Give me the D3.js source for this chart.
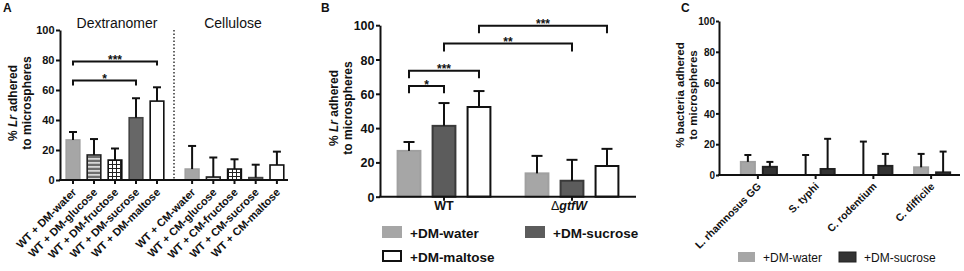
<!DOCTYPE html>
<html>
<head>
<meta charset="utf-8">
<script src="https://cdn.jsdelivr.net/npm/d3@7"></script>
<style>
  body { margin: 0; background: #fff; }
  svg text { font-family: Arial, "Liberation Sans", sans-serif; fill: #111; }
</style>
</head>
<body>
<svg id="fig" width="964" height="271"></svg>
<script>
// ---------- data ----------
// panel A
let dmLabels = ['WT + DM-water', 'WT + DM-glucose', 'WT + DM-fructose', 'WT + DM-sucrose', 'WT + DM-maltose'];
let cmLabels = ['WT + CM-water', 'WT + CM-glucose', 'WT + CM-fructose', 'WT + CM-sucrose', 'WT + CM-maltose'];
let sugars = ['water', 'glucose', 'fructose', 'sucrose', 'maltose'];
let dmMeans = [26.7, 16.7, 13.3, 41.5, 52.6];
let dmSd = [5.3, 10.6, 7.7, 13.0, 9.2];
let cmMeans = [7.3, 2.0, 7.3, 1.6, 10.0];
let cmSd = [15.4, 13.0, 6.5, 8.6, 8.9];
let aBrackets = [
  {from: 0, to: 4, top: 79, leg: 76.3, label: '***'},
  {from: 0, to: 3, top: 66.3, leg: 63, label: '*'}
];

// panel B
let strains = ['WT', 'gtfW'];
let bSeries = ['+DM-water', '+DM-sucrose', '+DM-maltose'];
let wtMeans = [26.7, 41.3, 52.3];
let wtSd = [5.2, 13.3, 9.3];
let gtfMeans = [13.6, 9.3, 17.9];
let gtfSd = [10.2, 12.2, 10.0];
let bBrackets = [
  {from: [0, 0], to: [0, 1], top: 64.5, leg: 60.3, label: '*'},
  {from: [0, 0], to: [0, 2], top: 73.5, leg: 69, label: '***'},
  {from: [0, 1], to: [1, 1], top: 89.4, leg: 84.6, label: '**'},
  {from: [0, 2], to: [1, 2], top: 99.7, leg: 95.3, label: '***'}
];

// panel C
let species = ['L. rhamnosus GG', 'S. typhi', 'C. rodentium', 'C. difficile'];
let cSeries = ['+DM-water', '+DM-sucrose'];
let waterMeans = [8.5, 0, 0, 5.0];
let waterSd = [4.5, 13.0, 21.7, 8.7];
let sucroseMeans = [5.3, 3.9, 5.9, 1.7];
let sucroseSd = [3.2, 19.6, 7.8, 13.5];

let ticks = [0, 20, 40, 60, 80, 100];

// ---------- setup ----------
let svg = d3.select('#fig');
let defs = svg.append('defs');

// horizontal stripes (glucose)
let ps = defs.append('pattern').attr('id', 'hstripe')
  .attr('patternUnits', 'userSpaceOnUse').attr('width', 6).attr('height', 4);
ps.append('rect').attr('width', 6).attr('height', 4).attr('fill', '#6e6e6e');
ps.append('rect').attr('y', 2.2).attr('width', 6).attr('height', 1.4).attr('fill', '#f2f2f2');

// grid (fructose)
let pg = defs.append('pattern').attr('id', 'grid')
  .attr('patternUnits', 'userSpaceOnUse').attr('width', 4).attr('height', 4);
pg.append('rect').attr('width', 4).attr('height', 4).attr('fill', '#fff');
pg.append('path').attr('d', 'M0,0.5H4M0.5,0V4').attr('stroke', '#222').attr('stroke-width', 1);

let sugarStyle = {
  water:    {fill: '#a6a6a6', stroke: '#a0a0a0'},
  glucose:  {fill: 'url(#hstripe)', stroke: '#222'},
  fructose: {fill: 'url(#grid)', stroke: '#111'},
  sucrose:  {fill: '#676767', stroke: '#444'},
  maltose:  {fill: '#fff', stroke: '#111'}
};

// draws a y axis with GraphPad look
function drawYAxis(x, y, fontSize) {
  let g = svg.append('g')
    .attr('transform', 'translate(' + x + ',0)')
    .call(d3.axisLeft(y).tickValues(ticks).tickSize(4).tickSizeOuter(0).tickPadding(1.5));
  g.select('.domain').attr('stroke', '#111').attr('stroke-width', 2);
  g.selectAll('.tick line').attr('stroke', '#111').attr('stroke-width', 2);
  g.selectAll('.tick text')
    .style('font-size', fontSize + 'px').style('font-weight', 'bold')
    .attr('dy', '0.36em').attr('fill', '#111');
  return g;
}

// x axis line with tick marks at given positions
function drawXAxis(x1, x2, y, tickXs) {
  svg.append('line').attr('x1', x1 - 1).attr('x2', x2).attr('y1', y).attr('y2', y)
    .attr('stroke', '#111').attr('stroke-width', 2);
  svg.append('g').selectAll('line').data(tickXs).enter().append('line')
    .attr('x1', d => d).attr('x2', d => d).attr('y1', y).attr('y2', y + 4)
    .attr('stroke', '#111').attr('stroke-width', 2);
}

// upper whisker only
function whisker(g, cx, yTop, yCap, capW) {
  g.append('line').attr('x1', cx).attr('x2', cx).attr('y1', yTop).attr('y2', yCap)
    .attr('stroke', '#111').attr('stroke-width', 2);
  g.append('line').attr('x1', cx - capW / 2).attr('x2', cx + capW / 2).attr('y1', yCap).attr('y2', yCap)
    .attr('stroke', '#111').attr('stroke-width', 2);
}

function bracket(x1, x2, yTop, yLeg, label, fs) {
  svg.append('path')
    .attr('d', 'M' + x1 + ',' + yLeg + 'V' + yTop + 'H' + x2 + 'V' + yLeg)
    .attr('fill', 'none').attr('stroke', '#111').attr('stroke-width', 2);
  svg.append('text').attr('x', (x1 + x2) / 2).attr('y', yTop + 2.5)
    .attr('text-anchor', 'middle').style('font-size', fs + 'px').style('font-weight', 'bold')
    .text(label);
}

function panelLetter(x, y, t) {
  svg.append('text').attr('x', x).attr('y', y).style('font-size', '12px')
    .style('font-weight', 'bold').text(t);
}

function yLabel(x1, x2, cy, line1, line2, fs) {
  let t1 = svg.append('text').attr('transform', 'translate(' + x1 + ',' + cy + ') rotate(-90)')
    .attr('text-anchor', 'middle').style('font-size', fs + 'px').style('font-weight', 'bold');
  line1.forEach(p => t1.append('tspan').style('font-style', p.it ? 'italic' : 'normal').text(p.t));
  svg.append('text').attr('transform', 'translate(' + x2 + ',' + cy + ') rotate(-90)')
    .attr('text-anchor', 'middle').style('font-size', fs + 'px').style('font-weight', 'bold')
    .text(line2);
}

// ---------- panel A ----------
let yA = d3.scaleLinear().domain([0, 100]).range([180, 30]);
let xDM = d3.scaleBand().domain(dmLabels).range([62.5, 167.5]).paddingInner(0.28).paddingOuter(0.14);
let xCM = d3.scaleBand().domain(cmLabels).range([181.5, 287.5]).paddingInner(0.28).paddingOuter(0.14);

panelLetter(3, 12, 'A');
svg.append('text').attr('x', 117).attr('y', 28).attr('text-anchor', 'middle')
  .style('font-size', '14px').text('Dextranomer');
svg.append('text').attr('x', 233).attr('y', 28).attr('text-anchor', 'middle')
  .style('font-size', '14px').text('Cellulose');

svg.append('line').attr('x1', 174).attr('x2', 174).attr('y1', yA(100)).attr('y2', yA(0))
  .attr('stroke', '#333').attr('stroke-width', 1.5).attr('stroke-dasharray', '1.5,2');

let gA = svg.append('g');
[[xDM, dmLabels, dmMeans, dmSd], [xCM, cmLabels, cmMeans, cmSd]].forEach(([xs, labs, means, sds]) => {
  labs.forEach((lab, i) => {
    let st = sugarStyle[sugars[i]];
    let bw = xs.bandwidth();
    gA.append('rect')
      .attr('x', xs(lab) + 0.75).attr('y', yA(means[i]))
      .attr('width', bw - 1.5).attr('height', yA(0) - yA(means[i]))
      .attr('fill', st.fill).attr('stroke', st.stroke).attr('stroke-width', 1.6);
    whisker(gA, xs(lab) + bw / 2, yA(means[i]), yA(means[i] + sds[i]), 8);
  });
});

drawYAxis(60, yA, 11);
drawXAxis(60, 288, yA(0), dmLabels.map(d => xDM(d) + xDM.bandwidth() / 2)
  .concat(cmLabels.map(d => xCM(d) + xCM.bandwidth() / 2)));

[[xDM, dmLabels], [xCM, cmLabels]].forEach(([xs, labs]) => {
  labs.forEach(lab => {
    let cx = xs(lab) + xs.bandwidth() / 2 + 4;
    svg.append('text').attr('transform', 'translate(' + cx + ',' + 193 + ') rotate(-45)')
      .attr('text-anchor', 'end').style('font-size', '11px').style('font-weight', 'bold')
      .text(lab);
  });
});

aBrackets.forEach(b => {
  let x1 = xDM(dmLabels[b.from]) + xDM.bandwidth() / 2;
  let x2 = xDM(dmLabels[b.to]) + xDM.bandwidth() / 2;
  bracket(x1, x2, yA(b.top), yA(b.leg), b.label, 12);
});

yLabel(17, 31, 103, [{t: '% '}, {t: 'Lr', it: true}, {t: ' adhered'}], 'to microspheres', 12);

// ---------- panel B ----------
let yB = d3.scaleLinear().domain([0, 100]).range([196.7, 25.2]);
let xB = d3.scaleBand().domain(strains).range([380, 636]).paddingInner(0.18).paddingOuter(0.09);
let xBi = d3.scaleBand().domain(bSeries).range([0, xB.bandwidth()]).paddingInner(0.29).paddingOuter(0.145);
let bStyle = [
  {fill: '#a6a6a6', stroke: '#a0a0a0'},
  {fill: '#5c5c5c', stroke: '#3a3a3a'},
  {fill: '#fff', stroke: '#111'}
];
let bData = [[wtMeans, wtSd], [gtfMeans, gtfSd]];
let bCenter = (s, k) => xB(strains[s]) + xBi(bSeries[k]) + xBi.bandwidth() / 2;

panelLetter(321, 12, 'B');
let gB = svg.append('g');
strains.forEach((s, si) => {
  bSeries.forEach((ser, k) => {
    let m = bData[si][0][k], sd = bData[si][1][k];
    gB.append('rect')
      .attr('x', xB(s) + xBi(ser) + 1).attr('y', yB(m))
      .attr('width', xBi.bandwidth() - 2).attr('height', yB(0) - yB(m))
      .attr('fill', bStyle[k].fill).attr('stroke', bStyle[k].stroke).attr('stroke-width', 2);
    whisker(gB, bCenter(si, k), yB(m), yB(m + sd), 11);
  });
});
drawYAxis(380, yB, 12.5);
drawXAxis(380, 636, yB(0), strains.map(s => xB(s) + xB.bandwidth() / 2));

svg.append('text').attr('x', xB('WT') + xB.bandwidth() / 2).attr('y', 210)
  .attr('text-anchor', 'middle').style('font-size', '12.5px').style('font-weight', 'bold').text('WT');
let tg = svg.append('text').attr('x', xB('gtfW') + xB.bandwidth() / 2 - 3).attr('y', 210)
  .attr('text-anchor', 'middle').style('font-size', '12.5px').style('font-weight', 'bold');
tg.append('tspan').style('font-weight', 'normal').text('\u0394');
tg.append('tspan').style('font-style', 'italic').text('gtfW');

bBrackets.forEach(b => {
  bracket(bCenter(b.from[0], b.from[1]), bCenter(b.to[0], b.to[1]), yB(b.top), yB(b.leg), b.label, 12);
});

yLabel(338, 352, 108, [{t: '% '}, {t: 'Lr', it: true}, {t: ' adhered'}], 'to microspheres', 12);

// legend B
let legB = [{x: 382, y: 226}, {x: 525, y: 226}, {x: 382, y: 250}];
bSeries.forEach((ser, k) => {
  let p = legB[k];
  svg.append('rect').attr('x', p.x + (k === 2 ? 1 : 0)).attr('y', p.y + (k === 2 ? 1 : 0))
    .attr('width', k === 2 ? 18 : 20).attr('height', k === 2 ? 10 : 12)
    .attr('fill', bStyle[k].fill).attr('stroke', k === 2 ? '#111' : 'none').attr('stroke-width', 2);
  svg.append('text').attr('x', p.x + 28).attr('y', p.y + 11.5)
    .style('font-size', '13.5px').style('font-weight', 'bold').text(ser);
});

// ---------- panel C ----------
let yC = d3.scaleLinear().domain([0, 100]).range([175, 21]);
let xC = d3.scaleBand().domain(species).range([729, 960]);
let xCi = d3.scaleBand().domain(cSeries).range([xC.bandwidth() / 2 - 21, xC.bandwidth() / 2 + 23])
  .paddingInner(0.27).paddingOuter(0.135);
let cStyle = [{fill: '#a6a6a6', stroke: '#a0a0a0'}, {fill: '#333', stroke: '#222'}];
let cData = [[waterMeans, waterSd], [sucroseMeans, sucroseSd]];

panelLetter(681, 12, 'C');
let gC = svg.append('g');
species.forEach((sp, i) => {
  cSeries.forEach((ser, k) => {
    let m = cData[k][0][i], sd = cData[k][1][i];
    let x = xC(sp) + xCi(ser);
    if (m > 0) {
      gC.append('rect').attr('x', x + 1).attr('y', yC(m))
        .attr('width', xCi.bandwidth() - 2).attr('height', yC(0) - yC(m))
        .attr('fill', cStyle[k].fill).attr('stroke', cStyle[k].stroke).attr('stroke-width', 2);
    }
    whisker(gC, x + xCi.bandwidth() / 2, yC(m), yC(m + sd), 7);
  });
});
let axC = drawYAxis(719, yC, 10);
axC.selectAll('.tick line').attr('x2', -3);
axC.selectAll('.tick text').attr('x', -4);
drawXAxis(719, 960, yC(0), species.map(s => xC(s) + xC.bandwidth() / 2));

species.forEach(sp => {
  let cx = xC(sp) + xC.bandwidth() / 2 + 4;
  svg.append('text').attr('transform', 'translate(' + cx + ',' + 187 + ') rotate(-45)')
    .attr('text-anchor', 'end').style('font-size', '10.5px').style('font-weight', 'bold')
    .text(sp);
});

yLabel(684, 697, 95, [{t: '% bacteria adhered'}], 'to microspheres', 11.5);

// legend C
let legC = [738, 839];
cSeries.forEach((ser, k) => {
  svg.append('rect').attr('x', legC[k]).attr('y', 252).attr('width', 17).attr('height', 10)
    .attr('fill', cStyle[k].fill).attr('stroke', k === 1 ? '#222' : 'none').attr('stroke-width', 1);
  svg.append('text').attr('x', legC[k] + 25).attr('y', 262)
    .style('font-size', '12px').text(ser);
});
</script>
</body>
</html>
